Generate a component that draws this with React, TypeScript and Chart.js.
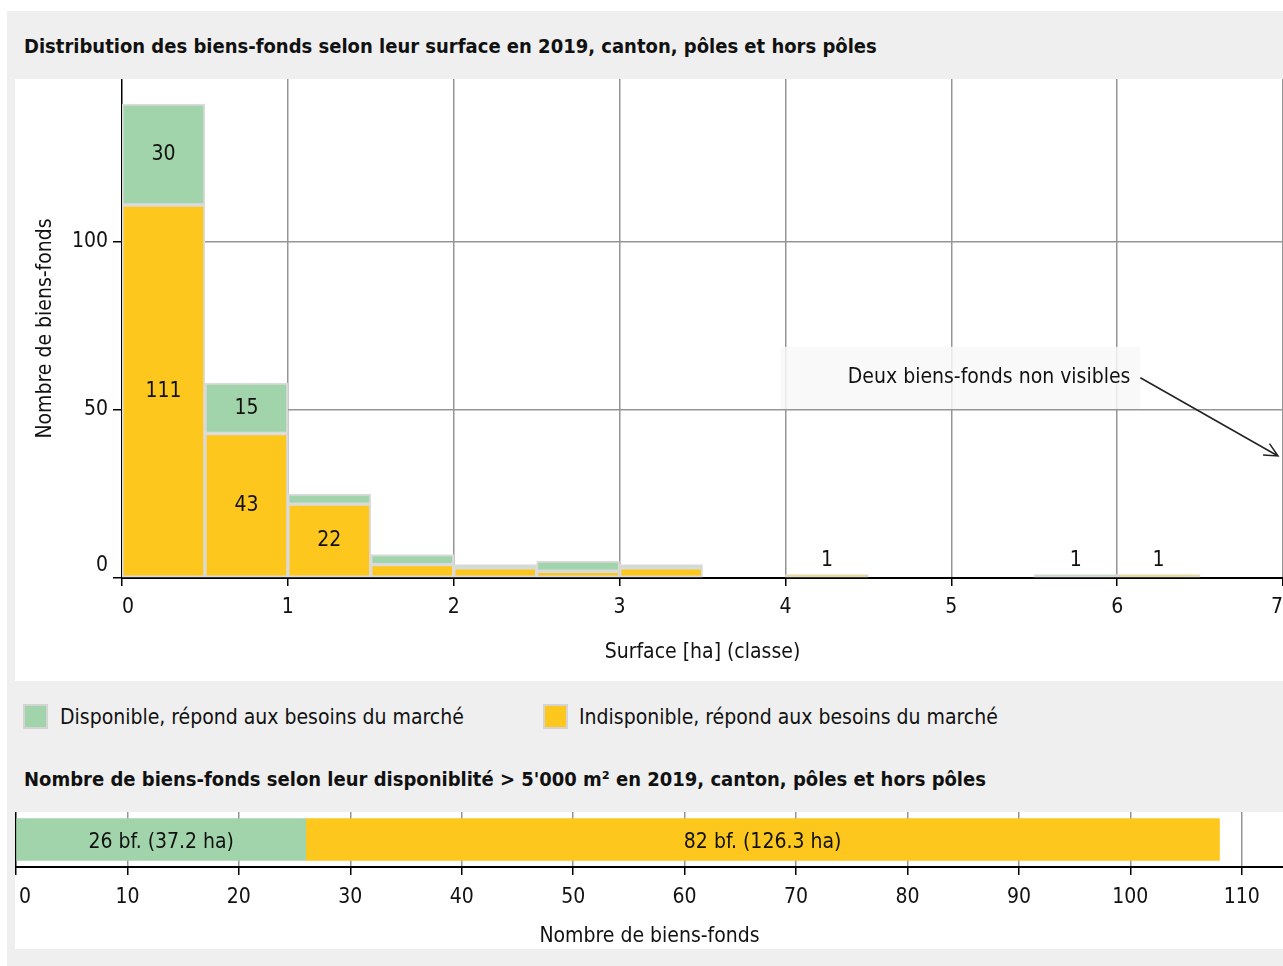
import React, { useEffect, useRef } from 'react';
import { Chart, registerables } from 'chart.js';

Chart.register(...registerables);

const FONT = "'Liberation Sans Narrow', 'Arial Narrow', 'DejaVu Sans Condensed', sans-serif";

// ---------- Data: histogram ----------
const binStarts = [0, 0.5, 1, 1.5, 2, 2.5, 3, 3.5, 4, 4.5, 5, 5.5, 6, 6.5];
const binWidth = 0.5;
const disponible = [30, 15, 3, 3, 1, 3, 1, 0, 0, 0, 0, 1, 0, 0];
const indisponible = [111, 43, 22, 4, 3, 2, 3, 0, 1, 0, 0, 0, 1, 0];
const xTickValues = [0, 1, 2, 3, 4, 5, 6, 7];
const yTickValues = [0, 50, 100];
const seriesNames = [
  'Disponible, répond aux besoins du marché',
  'Indisponible, répond aux besoins du marché',
];
const title1 = 'Distribution des biens-fonds selon leur surface en 2019, canton, pôles et hors pôles';
const xTitle1 = 'Surface [ha] (classe)';
const yTitle1 = 'Nombre de biens-fonds';
const noteText = 'Deux biens-fonds non visibles';

// ---------- Data: availability bar ----------
const title2 = "Nombre de biens-fonds selon leur disponiblité > 5'000 m² en 2019, canton, pôles et hors pôles";
const availCount = [26];
const availArea = [37.2];
const unavailCount = [82];
const unavailArea = [126.3];
const xTicks2 = [0, 10, 20, 30, 40, 50, 60, 70, 80, 90, 100, 110];
const xTitle2 = 'Nombre de biens-fonds';

const GREEN = '#a1d4ab';
const YELLOW = '#fdc71e';
const GRID = '#959595';
const FS = 21;
const FS_TITLE = 20;

const zeroPad = (s: any) => {
  s.paddingTop = 0;
  s.paddingBottom = 0;
  s.paddingLeft = 0;
  s.paddingRight = 0;
};

const labelsPlugin1 = {
  id: 'labels1',
  afterDatasetsDraw(chart: any) {
    const ctx = chart.ctx;
    ctx.save();
    ctx.font = `${FS}px ${FONT}`;
    ctx.fillStyle = '#111';
    ctx.textAlign = 'center';
    ctx.textBaseline = 'middle';
    const ds = chart.data.datasets;
    ds.forEach((d: any, di: number) => {
      const meta = chart.getDatasetMeta(di);
      meta.data.forEach((el: any, i: number) => {
        const v = d.data[i].y;
        let total = 0;
        ds.forEach((dd: any) => (total += dd.data[i].y));
        if (v >= 10) {
          ctx.fillText(String(v), el.x, (el.y + el.base) / 2);
        } else if (total === 1 && v === 1) {
          ctx.fillText(String(v), el.x, el.y - 14);
        }
      });
    });
    // annotation
    const xs = chart.scales.x;
    const ys = chart.scales.y;
    const bx0 = xs.getPixelForValue(3.97);
    const bx1 = xs.getPixelForValue(6.14);
    const by0 = ys.getPixelForValue(68.8);
    const by1 = ys.getPixelForValue(50.3);
    ctx.fillStyle = 'rgba(248,248,248,0.85)';
    ctx.fillRect(bx0, by0, bx1 - bx0, by1 - by0);
    ctx.fillStyle = '#111';
    ctx.textAlign = 'right';
    ctx.fillText(noteText, xs.getPixelForValue(6.08), ys.getPixelForValue(59.6));
    const ax0 = xs.getPixelForValue(6.14);
    const ay0 = ys.getPixelForValue(59.6);
    const ax1 = xs.getPixelForValue(6.97);
    const ay1 = ys.getPixelForValue(36.3);
    ctx.strokeStyle = '#222';
    ctx.lineWidth = 1.5;
    ctx.beginPath();
    ctx.moveTo(ax0, ay0);
    ctx.lineTo(ax1, ay1);
    const ang = Math.atan2(ay1 - ay0, ax1 - ax0);
    const hl = 15;
    ctx.moveTo(ax1 - hl * Math.cos(ang - 0.45), ay1 - hl * Math.sin(ang - 0.45));
    ctx.lineTo(ax1, ay1);
    ctx.lineTo(ax1 - hl * Math.cos(ang + 0.45), ay1 - hl * Math.sin(ang + 0.45));
    ctx.stroke();
    ctx.restore();
  },
};

const labelsPlugin2 = {
  id: 'labels2',
  beforeDraw(chart: any) {
    // nudge the first tick label ("0") inside the plot, as in the reference
    const items = chart.scales.x.getLabelItems();
    if (items && items[0] && !items[0]._shifted) {
      items[0].options.translation[0] += 9;
      items[0]._shifted = true;
    }
  },
  afterDatasetsDraw(chart: any) {
    const ctx = chart.ctx;
    ctx.save();
    ctx.font = `${FS}px ${FONT}`;
    ctx.fillStyle = '#111';
    ctx.textAlign = 'center';
    ctx.textBaseline = 'middle';
    const areas = [availArea, unavailArea];
    chart.data.datasets.forEach((d: any, di: number) => {
      const meta = chart.getDatasetMeta(di);
      meta.data.forEach((el: any, i: number) => {
        const v = d.data[i];
        ctx.fillText(`${v} bf. (${areas[di][i]} ha)`, (el.x + el.base) / 2, el.y + 3);
      });
    });
    ctx.restore();
  },
};

function Histogram() {
  const ref = useRef<HTMLCanvasElement>(null);
  useEffect(() => {
    const centers = binStarts.map((s) => s + binWidth / 2);
    const chart = new Chart(ref.current!, {
      type: 'bar',
      data: {
        datasets: [
          {
            label: seriesNames[1],
            data: centers.map((x, i) => ({ x, y: indisponible[i] })),
            backgroundColor: YELLOW,
            borderColor: '#dadada',
            borderWidth: 2,
            borderSkipped: false,
            barPercentage: 1,
            categoryPercentage: 1,
          },
          {
            label: seriesNames[0],
            data: centers.map((x, i) => ({ x, y: disponible[i] })),
            backgroundColor: GREEN,
            borderColor: '#dadada',
            borderWidth: 2,
            borderSkipped: false,
            barPercentage: 1,
            categoryPercentage: 1,
          },
        ],
      },
      options: {
        responsive: false,
        animation: false,
        devicePixelRatio: 1,
        layout: { padding: 0 },
        plugins: { legend: { display: false }, tooltip: { enabled: false } },
        scales: {
          x: {
            type: 'linear',
            stacked: true,
            offset: false,
            min: 0,
            max: 7,
            afterBuildTicks: (s: any) => {
              s.ticks = xTickValues.map((v) => ({ value: v }));
            },
            afterFit: (s: any) => {
              s.height = 103;
              zeroPad(s);
            },
            grid: {
              offset: false,
              color: (c: any) => (c.tick && c.tick.value === 0 ? 'rgba(0,0,0,0)' : GRID),
              lineWidth: 1.5,
              tickColor: '#000',
              tickLength: 8,
              tickWidth: 1.5,
            },
            border: { color: '#000', width: 2 },
            ticks: {
              align: 'inner',
              padding: 9,
              color: '#111',
              font: { family: FONT, size: FS },
              maxRotation: 0,
            },
            title: {
              display: true,
              text: xTitle1,
              color: '#111',
              font: { family: FONT, size: FS },
              padding: { top: 0, bottom: 16 },
            },
          },
          y: {
            stacked: true,
            min: 0,
            max: 148.5,
            afterBuildTicks: (s: any) => {
              s.ticks = yTickValues.map((v) => ({ value: v }));
            },
            afterFit: (s: any) => {
              s.width = 107;
              zeroPad(s);
            },
            grid: {
              color: (c: any) => (c.tick && c.tick.value === 0 ? 'rgba(0,0,0,0)' : GRID),
              lineWidth: 1.5,
              tickColor: '#000',
              tickLength: 9,
              tickWidth: 1.5,
            },
            border: { color: '#000', width: 1.5 },
            ticks: {
              padding: 5,
              color: '#111',
              font: { family: FONT, size: FS },
              callback: (v: any) => (v === 0 ? ['0', ''] : String(v)),
            },
            title: {
              display: true,
              text: yTitle1,
              color: '#111',
              font: { family: FONT, size: FS },
              padding: { top: 18, bottom: 0 },
            },
          },
        },
      },
      plugins: [labelsPlugin1],
    } as any);
    return () => chart.destroy();
  }, []);
  return (
    <canvas
      ref={ref}
      width={1268}
      height={602}
      style={{ position: 'absolute', left: 15, top: 79, width: 1268, height: 602 }}
    />
  );
}

function AvailBar() {
  const ref = useRef<HTMLCanvasElement>(null);
  useEffect(() => {
    const chart = new Chart(ref.current!, {
      type: 'bar',
      data: {
        labels: [''],
        datasets: [
          { label: seriesNames[0], data: availCount, backgroundColor: GREEN, barThickness: 42, borderWidth: 0 },
          { label: seriesNames[1], data: unavailCount, backgroundColor: YELLOW, barThickness: 42, borderWidth: 0 },
        ],
      },
      options: {
        indexAxis: 'y',
        responsive: false,
        animation: false,
        devicePixelRatio: 1,
        layout: { padding: 0 },
        plugins: { legend: { display: false }, tooltip: { enabled: false } },
        scales: {
          x: {
            type: 'linear',
            stacked: true,
            min: 0,
            max: 113.7,
            afterBuildTicks: (s: any) => {
              s.ticks = xTicks2.map((v) => ({ value: v }));
            },
            afterFit: (s: any) => {
              s.height = 82;
              zeroPad(s);
            },
            grid: {
              color: (c: any) => (c.tick && c.tick.value === 0 ? 'rgba(0,0,0,0)' : GRID),
              lineWidth: 1.5,
              tickColor: '#000',
              tickLength: 8,
              tickWidth: 1.5,
            },
            border: { color: '#000', width: 2 },
            ticks: {
              padding: 10,
              color: '#111',
              font: { family: FONT, size: FS },
              maxRotation: 0,
            },
            title: {
              display: true,
              text: xTitle2,
              color: '#111',
              font: { family: FONT, size: FS },
              padding: { top: 0, bottom: 0 },
            },
          },
          y: {
            stacked: true,
            afterFit: (s: any) => {
              s.width = 1;
              zeroPad(s);
            },
            grid: { display: false },
            ticks: { display: false },
            border: { color: '#000', width: 1.5 },
          },
        },
      },
      plugins: [labelsPlugin2],
    } as any);
    return () => chart.destroy();
  }, []);
  return (
    <canvas
      ref={ref}
      width={1268}
      height={137}
      style={{ position: 'absolute', left: 15, top: 812, width: 1268, height: 137 }}
    />
  );
}

const textLine = (top: number, left: number, bold: boolean): React.CSSProperties => ({
  position: 'absolute',
  left,
  top: top - 15,
  height: 30,
  lineHeight: '30px',
  fontSize: bold ? FS_TITLE : FS,
  fontWeight: bold ? 'bold' : 'normal',
  color: '#111',
  whiteSpace: 'nowrap',
});

const swatch = (left: number, color: string): React.CSSProperties => ({
  position: 'absolute',
  left,
  top: 704,
  width: 25,
  height: 25,
  boxSizing: 'border-box',
  border: '2px solid #d4d4d4',
  background: color,
});

export default function App() {
  return (
    <div
      style={{
        position: 'absolute',
        left: 0,
        top: 0,
        width: 1283,
        height: 966,
        overflow: 'hidden',
        background: '#fff',
        fontFamily: FONT,
      }}
    >
      <div style={{ position: 'absolute', left: 7, top: 11, right: 0, bottom: 0, background: '#efefef' }} />
      <div style={textLine(46, 24, true)}>{title1}</div>
      <div style={{ position: 'absolute', left: 15, top: 79, width: 1268, height: 602, background: '#fff' }} />
      <Histogram />
      <div style={swatch(23, GREEN)} />
      <div style={textLine(717, 60, false)}>{seriesNames[0]}</div>
      <div style={swatch(543, YELLOW)} />
      <div style={textLine(717, 579, false)}>{seriesNames[1]}</div>
      <div style={textLine(779, 24, true)}>{title2}</div>
      <div style={{ position: 'absolute', left: 15, top: 812, width: 1268, height: 137, background: '#fff' }} />
      <AvailBar />
    </div>
  );
}
